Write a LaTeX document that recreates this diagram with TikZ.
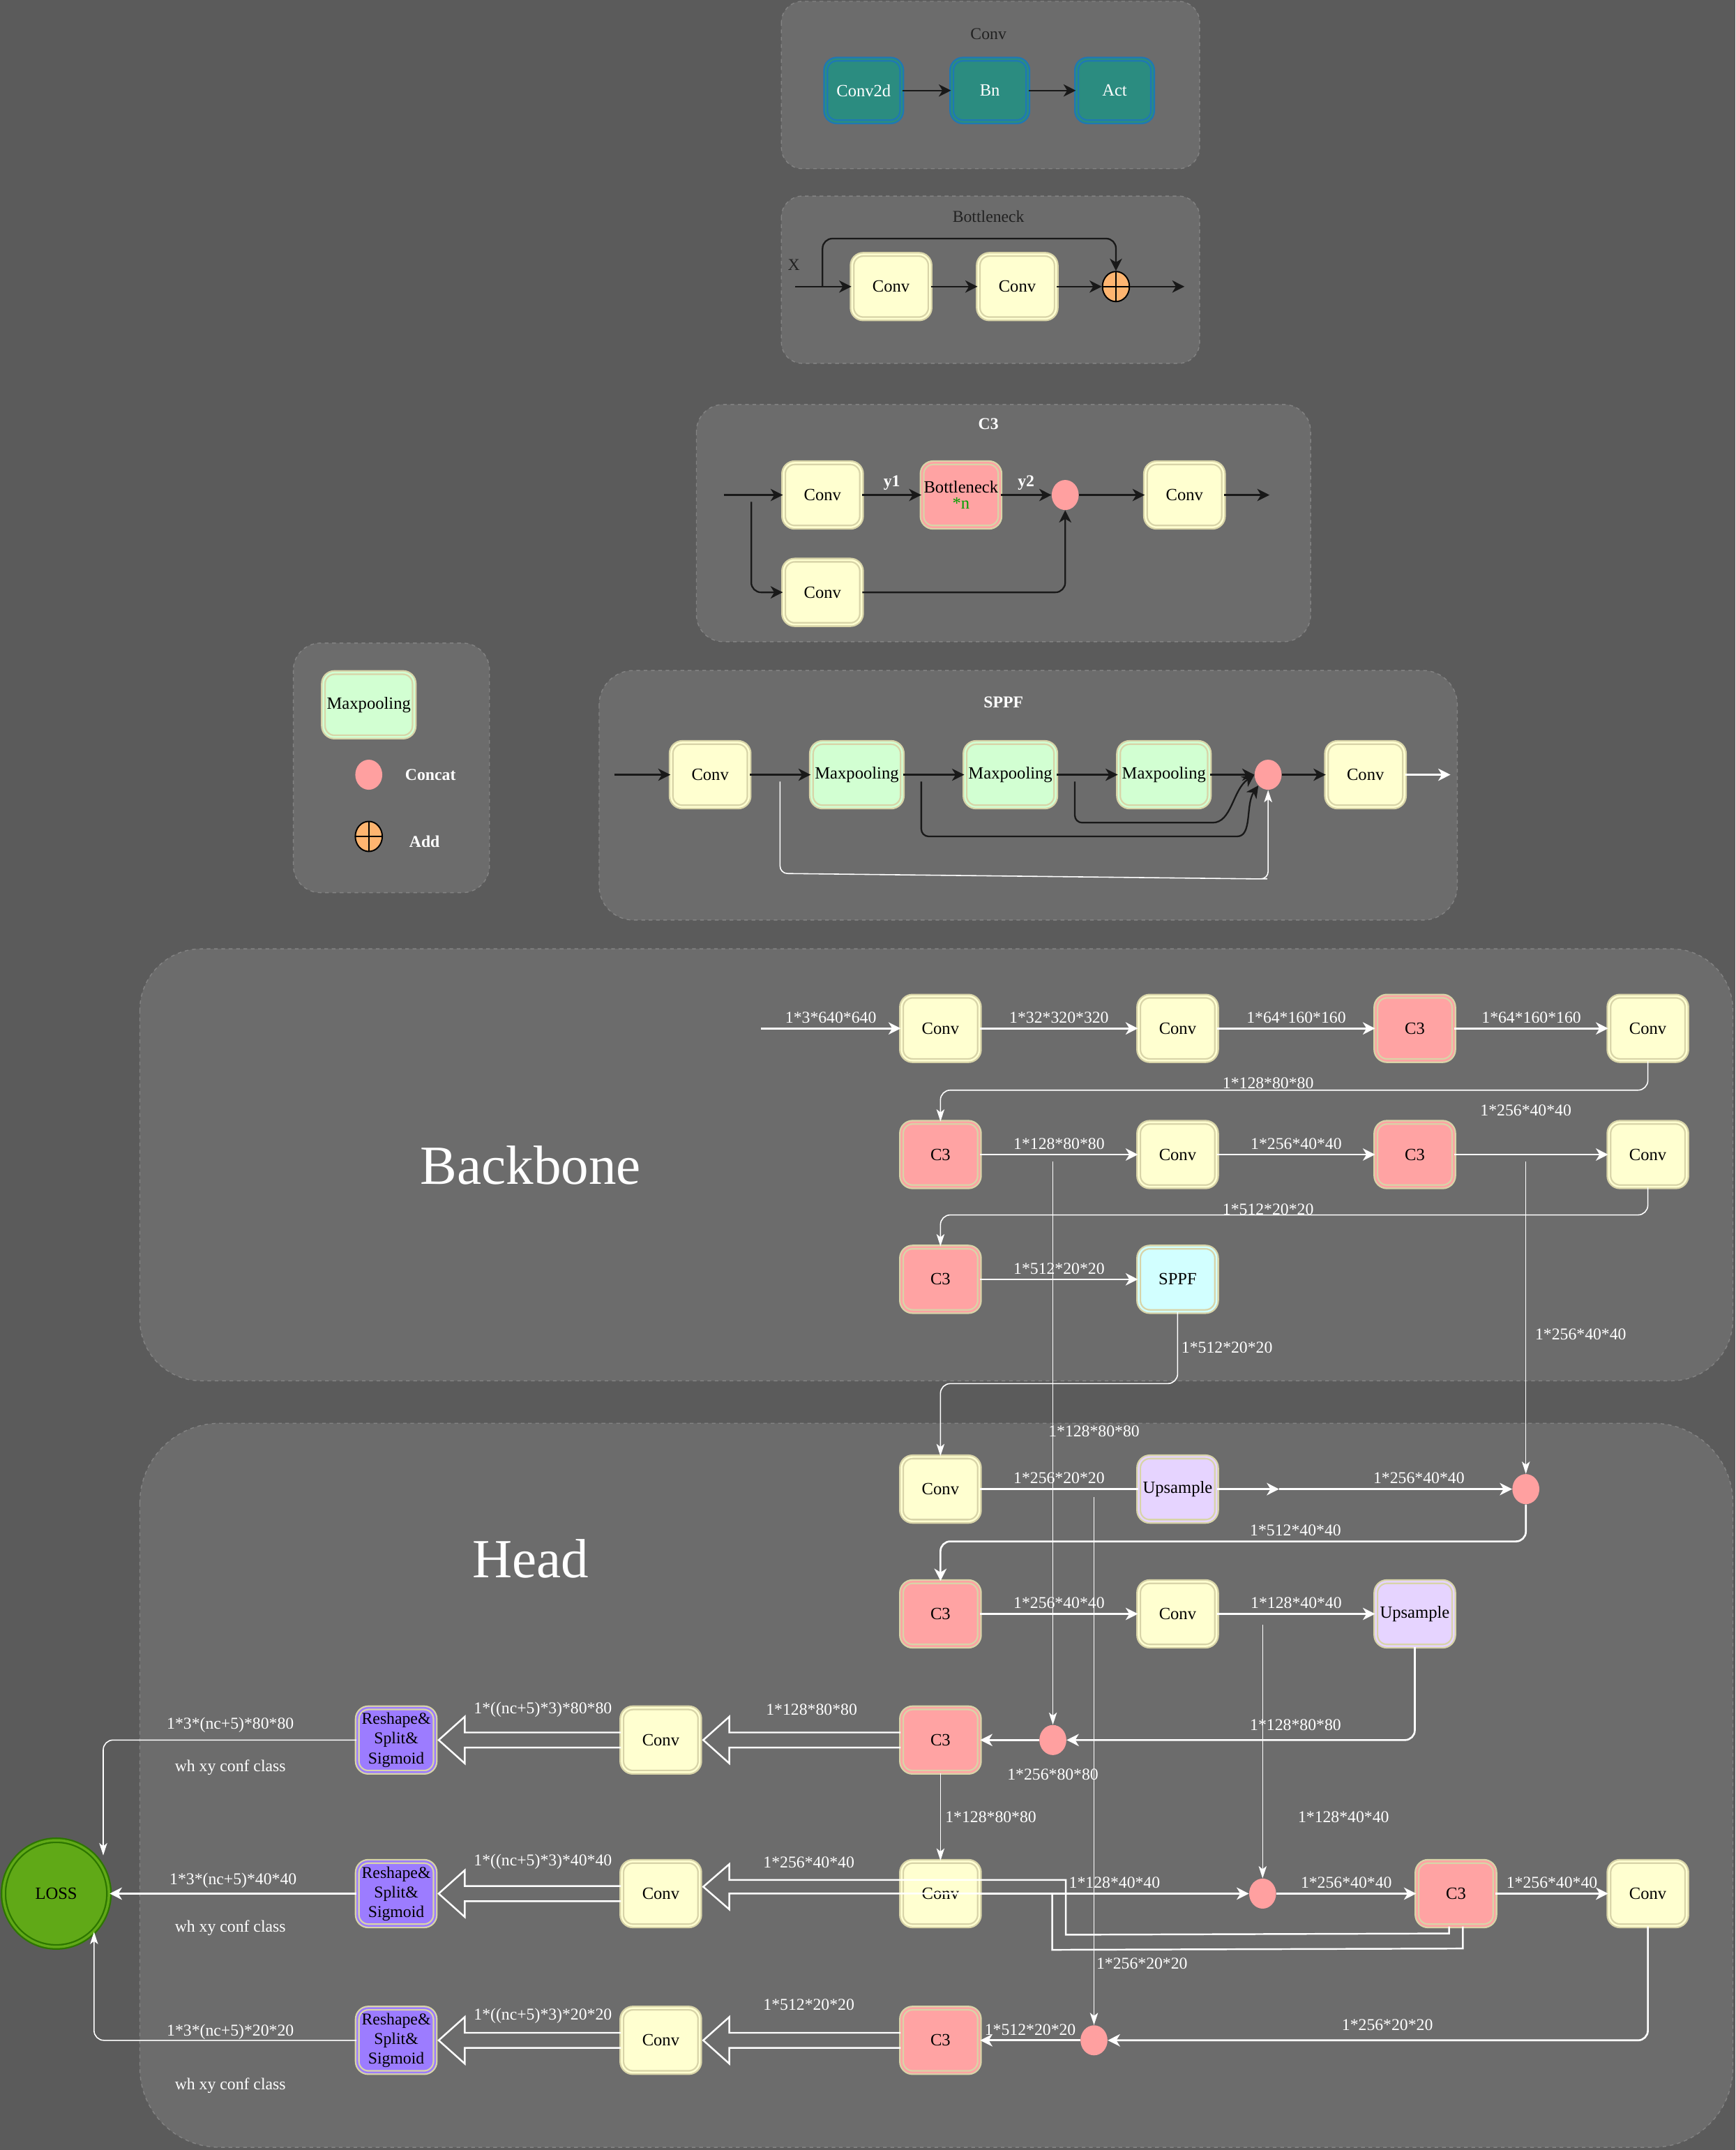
\documentclass[tikz,border=0pt]{standalone}
\usepackage{fontspec}
\setmainfont{Liberation Serif}
\usetikzlibrary{arrows.meta,calc,positioning,shapes.geometric}

\definecolor{bgcol}{HTML}{5B5B5B}
\definecolor{panelcol}{HTML}{6C6C6C}
\definecolor{panelline}{HTML}{838383}
\definecolor{convfill}{HTML}{FFFFD0}
\definecolor{c3fill}{HTML}{FFA3A3}
\definecolor{poolfill}{HTML}{D2FFD2}
\definecolor{sppffill}{HTML}{D2FFFF}
\definecolor{upfill}{HTML}{E6D4FF}
\definecolor{reshfill}{HTML}{9C7CFF}
\definecolor{tealfill}{HTML}{2B8C80}
\definecolor{tealline}{HTML}{1F78B4}
\definecolor{edgecol}{HTML}{D8D4A8}
\definecolor{catfill}{HTML}{FFA0A0}
\definecolor{addfill}{HTML}{FFB570}
\definecolor{lossfill}{HTML}{60A917}
\definecolor{lossline}{HTML}{2D7600}
\definecolor{darktext}{HTML}{222222}
\definecolor{nfill}{HTML}{00A000}

\newcommand{\boxfont}{\fontsize{14}{16}\selectfont}
\newcommand{\labfont}{\fontsize{13.5}{15}\selectfont}
\newcommand{\bigfont}{\fontsize{45}{50}\selectfont}

% hollow arrow, leftwards from #1 to #2
\newcommand{\flexto}[2]{%
  \draw[flex] ($(#1.west)+(0,-5.5)$) -- ($(#2.east)+(21,-5.5)$) -- ($(#2.east)+(21,-17)$)
    -- ($(#2.east)+(2,0)$) -- ($(#2.east)+(21,17)$) -- ($(#2.east)+(21,5.5)$) -- ($(#1.west)+(0,5.5)$);}

\begin{document}
\begin{tikzpicture}[x=0.3931mm,y=-0.3931mm,
    blk/.style={rectangle,rounded corners=9pt,draw=edgecol,line width=1.3pt,double distance=1.4pt,
      minimum width=63.5pt,minimum height=52.5pt,inner sep=1pt,font=\boxfont,text=black,align=center},
    conv/.style={blk,fill=convfill,double=convfill},
    cthree/.style={blk,fill=c3fill,double=c3fill},
    pool/.style={blk,fill=poolfill,double=poolfill,minimum width=74pt},
    sppf/.style={blk,fill=sppffill,double=sppffill},
    upsm/.style={blk,fill=upfill,double=upfill},
    resh/.style={blk,fill=reshfill,double=reshfill,font=\fontsize{13.5}{16}\selectfont},
    basic/.style={blk,draw=tealline,fill=tealfill,double=tealfill,text=white,minimum width=62pt,minimum height=51pt},
    cat/.style={ellipse,fill=catfill,minimum width=22pt,minimum height=24.5pt,inner sep=0pt},
    addop/.style={ellipse,draw=black,line width=1.1pt,fill=addfill,minimum width=22pt,minimum height=24.5pt,inner sep=0pt,
      path picture={\draw[line width=1.1pt] (path picture bounding box.north) -- (path picture bounding box.south)
        (path picture bounding box.west) -- (path picture bounding box.east);}},
    loss/.style={ellipse,draw=lossline,fill=lossfill,double=lossfill,line width=1.3pt,double distance=2pt,
      minimum width=86pt,minimum height=87pt,font=\boxfont,text=black},
    panel/.style={draw=panelline,dashed,fill=panelcol,line width=0.8pt},
    ttl/.style={font=\labfont,text=darktext},
    bttl/.style={font=\labfont\bfseries,text=white},
    lab/.style={font=\labfont,text=white,inner sep=3.5pt},
    big/.style={font=\bigfont,text=white},
    bwire/.style={black!90,line width=1.3pt,-{Stealth[length=10pt,width=10pt,inset=3pt]}},
    wwire/.style={white,line width=1.5pt,-{Stealth[length=10pt,width=10pt,inset=3pt]}},
    feed/.style={white,line width=0.9pt,-{Stealth[length=10pt,width=6.5pt,inset=2.5pt]}},
    flex/.style={white,line width=1.4pt,line join=miter}]
\useasboundingbox (0,0) rectangle (1266,1568);
\fill[bgcol] (0,0) rectangle (1266,1568);

% panels
\draw[panel,rounded corners=17pt] (570,1) rectangle (875,123);
\draw[panel,rounded corners=17pt] (570,143) rectangle (875,265);
\draw[panel,rounded corners=22pt] (508,295) rectangle (956,468);
\draw[panel,rounded corners=22pt] (214,469) rectangle (357,651);
\draw[panel,rounded corners=28pt] (437,489) rectangle (1063,671);
\draw[panel,rounded corners=50pt] (102,692) rectangle (1264,1007);
\draw[panel,rounded corners=65pt] (102,1038) rectangle (1264,1566);

% Conv
\node[ttl] (tconv) at (721,25) {Conv};
\node[basic] (cv2d) at (630,66) {Conv2d};
\node[basic] (bn) at (722,66) {Bn};
\node[basic] (act) at (813,66) {Act};
\path[bwire] (cv2d) edge (bn)
             (bn) edge (act);

% Bottleneck
\node[ttl] (tbot) at (721,158) {Bottleneck};
\node[ttl] (xlab) at (579,193) {X};
\coordinate (xin) at (580,209);
\coordinate (xsplit) at (600,209);
\node[conv] (bc1) at (650,209) {Conv};
\node[conv] (bc2) at (742,209) {Conv};
\node[addop] (badd) at (814,209) {};
\coordinate (bout) at (864,209);
\draw[bwire] (xin) -- (bc1);
\path[bwire] (bc1) edge (bc2)
             (bc2) edge (badd)
             (badd) edge (bout);
\draw[bwire,rounded corners=8pt] (xsplit) -- ++(0,-35) -| (badd);

% C3
\node[bttl] (tc3) at (721,309) {C3};
\coordinate (cin) at (528,361);
\coordinate (csplit) at (548,366);
\node[conv] (cc1) at (600,361) {Conv};
\node[cthree] (cbn) at (701,361) {Bottleneck\\[-3pt]{\color{nfill}*n}};
\node[cat] (ccat) at (777,361) {};
\node[conv] (cc3) at (864,361) {Conv};
\coordinate (cout) at (926,361);
\node[conv] (cc2) at (600,432) {Conv};
\draw[bwire] (cin) -- (cc1);
\path[bwire] (cc1) edge node[bttl,above] {y1} (cbn)
             (cbn) edge node[bttl,above] {y2} (ccat)
             (ccat) edge (cc3)
             (cc3) edge (cout);
\draw[bwire,rounded corners=8pt] (csplit) |- (cc2);
\draw[bwire,rounded corners=8pt] (cc2) -| (ccat);

% legend
\node[pool] (lpool) at (269,514) {Maxpooling};
\node[cat] (lcat) at (269,565) {};
\node[bttl] (lcatl) [right=15pt of lcat] {Concat};
\node[addop] (ladd) at (269,610) {};
\node[bttl] (laddl) [right=18pt of ladd,yshift=-4pt] {Add};

% SPPF
\node[bttl] (tsppf) at (732,512) {SPPF};
\coordinate (sin) at (448,565);
\node[conv] (sc1) at (518,565) {Conv};
\node[pool] (mp1) at (625,565) {Maxpooling};
\node[pool] (mp2) at (737,565) {Maxpooling};
\node[pool] (mp3) at (849,565) {Maxpooling};
\node[cat] (scat) at (925,565) {};
\node[conv] (sc2) at (996,565) {Conv};
\coordinate (sout) at (1058,565);
\coordinate (stap0) at (569,570);
\coordinate (stap1) at (672,570);
\coordinate (stap2) at (784,570);
\draw[bwire] (sin) -- (sc1);
\path[bwire] (sc1) edge (mp1)
             (mp1) edge (mp2)
             (mp2) edge (mp3)
             (mp3) edge (scat)
             (scat) edge (sc2);
\draw[wwire] (sc2) -- (sout);
\draw[feed,rounded corners=6pt] (stap0) -- ++(0,67) -- ++(350,4) -| (scat);
\draw[bwire,rounded corners=6pt] (stap1) -- ++(0,40) -- ++(225,0) to[out=0,in=235] (scat.south west);
\draw[bwire,rounded corners=6pt] (stap2) -- ++(0,30) -- ++(95,0) to[out=0,in=215] (scat.west);

% Backbone
\node[big] (tback) at (387,850) {Backbone};
\coordinate (img) at (555,750);
\node[conv] (b1) at (686,750) {Conv};
\node[conv] (b2) at (859,750) {Conv};
\node[cthree] (b3) at (1032,750) {C3};
\node[conv] (b4) at (1202,750) {Conv};
\node[cthree] (b5) at (686,842) {C3};
\node[conv] (b6) at (859,842) {Conv};
\node[cthree] (b7) at (1032,842) {C3};
\node[conv] (b8) at (1202,842) {Conv};
\node[cthree] (b9) at (686,933) {C3};
\node[sppf] (b10) at (859,933) {SPPF};

\path[wwire] (img) edge node[lab,above] {1*3*640*640} (b1)
             (b1) edge node[lab,above] {1*32*320*320} (b2)
             (b2) edge node[lab,above] {1*64*160*160} (b3)
             (b3) edge node[lab,above] {1*64*160*160} (b4)
             (b5) edge node[lab,above] {1*128*80*80} (b6)
             (b6) edge node[lab,above] {1*256*40*40} (b7)
             (b7) edge (b8)
             (b9) edge node[lab,above] {1*512*20*20} (b10);
\node[lab] (lb78) at (1113,810) {1*256*40*40};
\draw[feed,rounded corners=8pt] (b4.south) -- ++(0,21) -| (b5);
\node[lab] (lb45) at (925,790) {1*128*80*80};
\draw[feed,rounded corners=8pt] (b8.south) -- ++(0,20) -| (b9);
\node[lab] (lb89) at (925,882) {1*512*20*20};
\node[lab] (lbsp) at (895,983) {1*512*20*20};

% Head
\node[big] (thead) at (387,1137) {Head};
\node[conv] (h1) at (686,1086) {Conv};
\node[upsm] (h2) at (859,1086) {Upsample};
\node[cat] (hcat1) at (1113,1086) {};
\node[cthree] (h3) at (686,1177) {C3};
\node[conv] (h4) at (859,1177) {Conv};
\node[upsm] (h5) at (1032,1177) {Upsample};
\node[cat] (hcat2) at (768,1269) {};
\node[cthree] (h6) at (686,1269) {C3};
\node[conv] (h7) at (482,1269) {Conv};
\node[resh] (r1) at (289,1269) {Reshape\&\\Split\&\\Sigmoid};
\node[conv] (h8) at (686,1381) {Conv};
\node[cat] (hcat3) at (921,1381) {};
\node[cthree] (h9) at (1062,1381) {C3};
\node[conv] (h10) at (1202,1381) {Conv};
\node[conv] (h11) at (482,1381) {Conv};
\node[resh] (r2) at (289,1381) {Reshape\&\\Split\&\\Sigmoid};
\node[cat] (hcat4) at (798,1488) {};
\node[cthree] (h12) at (686,1488) {C3};
\node[conv] (h13) at (482,1488) {Conv};
\node[resh] (r3) at (289,1488) {Reshape\&\\Split\&\\Sigmoid};
\node[loss] (loss) at (41,1381) {LOSS};

% backbone -> head
\draw[feed,rounded corners=8pt] (b10.south) -- ++(0,52) -| (h1);
\coordinate (tap80) at (768,847);
\coordinate (tap40) at (1113,847);
\draw[feed] (tap80) -- (hcat2);
\draw[feed] (tap40) -- (hcat1);
\node[lab] (lt80) at (798,1044) {1*128*80*80};
\node[lab] (lt40) at (1153,973) {1*256*40*40};

% head wires
\coordinate (umid) at (933,1086);
\path[wwire] (h1) edge[-] node[lab,above] {1*256*20*20} (h2)
             (h2) edge (umid)
             (umid) edge node[lab,above,pos=0.6] {1*256*40*40} (hcat1)
             (h3) edge node[lab,above] {1*256*40*40} (h4)
             (h4) edge node[lab,above] {1*128*40*40} (h5)
             (hcat2) edge (h6)
             (h8) edge node[lab,above] {1*128*40*40} (hcat3)
             (hcat3) edge node[lab,above] {1*256*40*40} (h9)
             (h9) edge node[lab,above] {1*256*40*40} (h10)
             (hcat4) edge node[lab,above] {1*512*20*20} (h12)
             (r2) edge node[lab,above] {1*3*(nc+5)*40*40} (loss);
\draw[wwire,rounded corners=8pt] (hcat1.south) -- ++(0,27) -| (h3);
\node[lab] (lh13) at (945,1116) {1*512*40*40};
\coordinate (tap20) at (798,1092);
\coordinate (tap41) at (921,1185);
\draw[feed] (tap20) -- (hcat4);
\draw[feed] (tap41) -- (hcat3);
\node[lab] (lt20) at (833,1432) {1*256*20*20};
\node[lab] (lt41) at (980,1325) {1*128*40*40};
\draw[wwire,rounded corners=8pt] (h5.south) |- (hcat2);
\node[lab] (lh52) at (945,1258) {1*128*80*80};
\node[lab] (lh26) at (768,1294) {1*256*80*80};
\draw[feed] (h6) -- node[lab,right] {1*128*80*80} (h8);
\draw[wwire,rounded corners=8pt] (h10.south) |- (hcat4);
\node[lab] (lh104) at (1012,1477) {1*256*20*20};

% detect outputs
\flexto{h6}{h7}
\flexto{h7}{r1}
\flexto{h12}{h13}
\flexto{h13}{r3}
\flexto{h11}{r2}
\coordinate (ftip) at ($(h11.east)+(2,-5)$);
\draw[flex] ($(h9.south)+(-5,0)$) -- ($(h9.south)+(-5,5)$) -- ($(ftip)+(264.5,35)$) -- ($(ftip)+(264.5,-5)$)
  -- ($(ftip)+(19,-5)$) -- ($(ftip)+(19,-16.5)$) -- (ftip) -- ($(ftip)+(19,16.5)$) -- ($(ftip)+(19,5)$)
  -- ($(ftip)+(254.5,5)$) -- ($(ftip)+(254.5,46)$) -- ($(h9.south)+(5,16)$) -- ($(h9.south)+(5,0)$);
\node[lab] (lf1) at (592,1247) {1*128*80*80};
\node[lab] (lf2) at (396,1247) {1*((nc+5)*3)*80*80};
\node[lab] (lf3) at (590,1358) {1*256*40*40};
\node[lab] (lf4) at (396,1358) {1*((nc+5)*3)*40*40};
\node[lab] (lf5) at (590,1462) {1*512*20*20};
\node[lab] (lf6) at (396,1470) {1*((nc+5)*3)*20*20};

% loss
\draw[feed,rounded corners=8pt] (r1.west) -| ([xshift=7.5pt]loss.north east);
\draw[feed,rounded corners=8pt] (r3.west) -| (loss.south east);
\node[lab] (lo1) at (168,1258) {1*3*(nc+5)*80*80};
\node[lab] (lo2) at (168,1289) {wh xy conf class};
\node[lab] (lo4) at (168,1406) {wh xy conf class};
\node[lab] (lo5) at (168,1482) {1*3*(nc+5)*20*20};
\node[lab] (lo6) at (168,1521) {wh xy conf class};
\end{tikzpicture}
\end{document}
